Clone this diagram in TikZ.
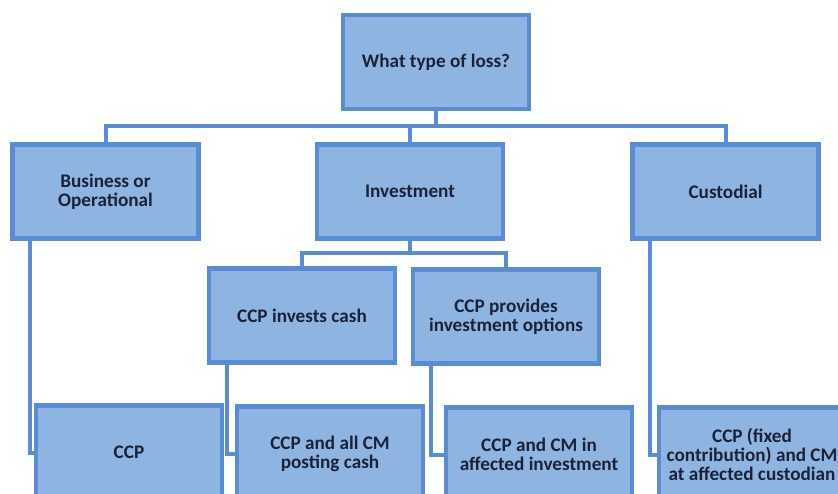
\documentclass[tikz,border=0pt]{standalone}
\usepackage{fontspec}
\setmainfont{Carlito}

\definecolor{boxfill}{RGB}{142,180,226}
\definecolor{boxline}{RGB}{88,140,212}
\definecolor{boxtext}{RGB}{27,34,56}

\tikzset{
  lossbox/.style={draw=boxline, line width=2.2pt, fill=boxfill,
    minimum width=93pt, minimum height=47pt, inner sep=2pt,
    align=center, text=boxtext,
    font=\bfseries\fontsize{9.6}{9.6}\selectfont},
  link/.style={draw=boxline, line width=2pt},
}

\begin{document}
\begin{tikzpicture}[x=0.5pt, y=-0.5pt]
    % page frame, the lowest row runs off the edge
    \useasboundingbox (0,0) rectangle (838,493);
    \clip (0,0) rectangle (838,493);

    % top question
    \node[lossbox] (top) at (436,62) {What type of loss?};

    % the three kinds of loss
    \node[lossbox] (biz) at (105.5,191.5) {Business or\\Operational};
    \node[lossbox] (inv) at (410,191.5) {Investment};
    \node[lossbox] (cust) at (725.5,191.5) {Custodial};

    % investment split
    \node[lossbox] (cash) at (302,315.5) {CCP invests cash};
    \node[lossbox] (opts) at (506,316.5) {CCP provides\\investment options};

    % who bears the loss
    \node[lossbox] (ccp) at (129,452.5) {CCP};
    \node[lossbox] (allcm) at (330,453.5) {CCP and all CM\\posting cash};
    \node[lossbox] (cmin) at (539,454.5) {CCP and CM in\\affected investment};
    \node[lossbox] (fixed) at (752,454.5) {CCP (fixed\\contribution) and CM\\at affected custodian};

    % links from the top question
    \coordinate (bus) at (436,126);
    \draw[link] (top.south) -- (bus);
    \draw[link] (biz.north) |- (bus) -| (cust.north);
    \draw[link] (inv.north) -- (inv.north |- bus);

    % links below investment
    \coordinate (invbus) at (410,253);
    \draw[link] (inv.south) -- (invbus);
    \draw[link] (cash.north) |- (invbus) -| (opts.north);

    % hanging links to the last row
    \draw[link] ([xshift=10pt]biz.south west) |- (ccp.west);
    \draw[link] ([xshift=10pt]cash.south west) |- (allcm.west);
    \draw[link] ([xshift=10pt]opts.south west) |- (cmin.west);
    \draw[link] ([xshift=10pt]cust.south west) |- (fixed.west);
\end{tikzpicture}
\end{document}
